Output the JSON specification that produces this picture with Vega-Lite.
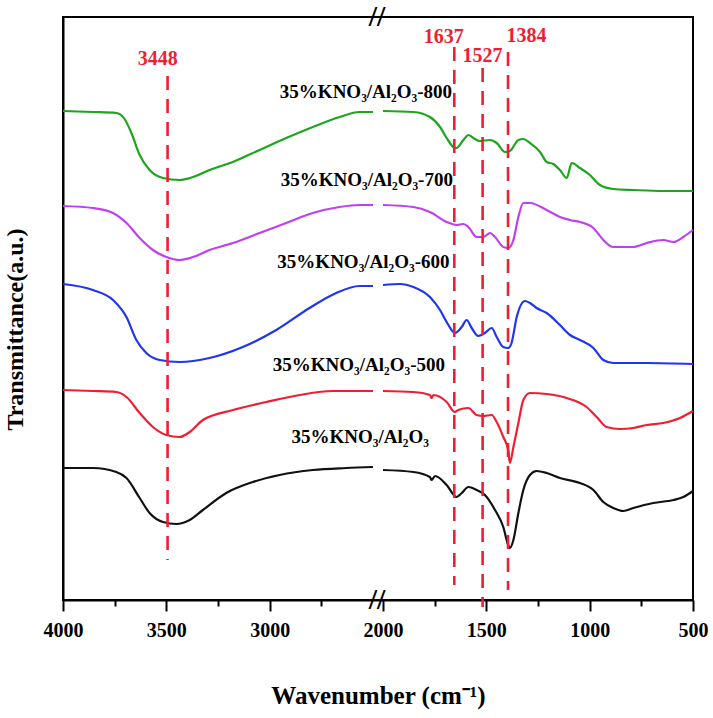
{
  "$schema": "https://vega.github.io/schema/vega-lite/v6.json",
  "width": 630,
  "height": 583,
  "autosize": {"type": "none"},
  "padding": {"left": 63, "top": 17, "right": 20, "bottom": 118},
  "background": "white",
  "datasets": {
    "spectra": [
      {"sample": "800", "part": "a", "wavenumber": 4000, "transmittance": 489},
      {"sample": "800", "part": "a", "wavenumber": 3855, "transmittance": 488},
      {"sample": "800", "part": "a", "wavenumber": 3742, "transmittance": 487},
      {"sample": "800", "part": "a", "wavenumber": 3702, "transmittance": 481},
      {"sample": "800", "part": "a", "wavenumber": 3669, "transmittance": 467},
      {"sample": "800", "part": "a", "wavenumber": 3629, "transmittance": 445},
      {"sample": "800", "part": "a", "wavenumber": 3581, "transmittance": 430},
      {"sample": "800", "part": "a", "wavenumber": 3516, "transmittance": 422},
      {"sample": "800", "part": "a", "wavenumber": 3436, "transmittance": 420},
      {"sample": "800", "part": "a", "wavenumber": 3371, "transmittance": 423},
      {"sample": "800", "part": "a", "wavenumber": 3291, "transmittance": 430},
      {"sample": "800", "part": "a", "wavenumber": 3178, "transmittance": 438},
      {"sample": "800", "part": "a", "wavenumber": 3049, "transmittance": 450},
      {"sample": "800", "part": "a", "wavenumber": 2920, "transmittance": 462},
      {"sample": "800", "part": "a", "wavenumber": 2791, "transmittance": 473},
      {"sample": "800", "part": "a", "wavenumber": 2662, "transmittance": 483},
      {"sample": "800", "part": "a", "wavenumber": 2565, "transmittance": 488},
      {"sample": "800", "part": "a", "wavenumber": 2500, "transmittance": 488},
      {"sample": "800", "part": "b", "wavenumber": 2000, "transmittance": 489},
      {"sample": "800", "part": "b", "wavenumber": 1853, "transmittance": 488},
      {"sample": "800", "part": "b", "wavenumber": 1773, "transmittance": 483},
      {"sample": "800", "part": "b", "wavenumber": 1724, "transmittance": 473},
      {"sample": "800", "part": "b", "wavenumber": 1692, "transmittance": 462},
      {"sample": "800", "part": "b", "wavenumber": 1660, "transmittance": 453},
      {"sample": "800", "part": "b", "wavenumber": 1644, "transmittance": 452},
      {"sample": "800", "part": "b", "wavenumber": 1611, "transmittance": 460},
      {"sample": "800", "part": "b", "wavenumber": 1587, "transmittance": 465},
      {"sample": "800", "part": "b", "wavenumber": 1563, "transmittance": 462},
      {"sample": "800", "part": "b", "wavenumber": 1531, "transmittance": 459},
      {"sample": "800", "part": "b", "wavenumber": 1482, "transmittance": 460},
      {"sample": "800", "part": "b", "wavenumber": 1450, "transmittance": 457},
      {"sample": "800", "part": "b", "wavenumber": 1410, "transmittance": 448},
      {"sample": "800", "part": "b", "wavenumber": 1386, "transmittance": 449},
      {"sample": "800", "part": "b", "wavenumber": 1345, "transmittance": 460},
      {"sample": "800", "part": "b", "wavenumber": 1321, "transmittance": 461},
      {"sample": "800", "part": "b", "wavenumber": 1289, "transmittance": 457},
      {"sample": "800", "part": "b", "wavenumber": 1240, "transmittance": 448},
      {"sample": "800", "part": "b", "wavenumber": 1208, "transmittance": 438},
      {"sample": "800", "part": "b", "wavenumber": 1176, "transmittance": 436},
      {"sample": "800", "part": "b", "wavenumber": 1144, "transmittance": 430},
      {"sample": "800", "part": "b", "wavenumber": 1111, "transmittance": 422},
      {"sample": "800", "part": "b", "wavenumber": 1087, "transmittance": 437},
      {"sample": "800", "part": "b", "wavenumber": 1047, "transmittance": 432},
      {"sample": "800", "part": "b", "wavenumber": 999, "transmittance": 425},
      {"sample": "800", "part": "b", "wavenumber": 950, "transmittance": 415},
      {"sample": "800", "part": "b", "wavenumber": 886, "transmittance": 411},
      {"sample": "800", "part": "b", "wavenumber": 789, "transmittance": 410},
      {"sample": "800", "part": "b", "wavenumber": 644, "transmittance": 409},
      {"sample": "800", "part": "b", "wavenumber": 500, "transmittance": 409},

      {"sample": "700", "part": "a", "wavenumber": 4000, "transmittance": 394},
      {"sample": "700", "part": "a", "wavenumber": 3855, "transmittance": 392},
      {"sample": "700", "part": "a", "wavenumber": 3758, "transmittance": 387},
      {"sample": "700", "part": "a", "wavenumber": 3693, "transmittance": 377},
      {"sample": "700", "part": "a", "wavenumber": 3629, "transmittance": 362},
      {"sample": "700", "part": "a", "wavenumber": 3565, "transmittance": 350},
      {"sample": "700", "part": "a", "wavenumber": 3500, "transmittance": 343},
      {"sample": "700", "part": "a", "wavenumber": 3436, "transmittance": 340},
      {"sample": "700", "part": "a", "wavenumber": 3371, "transmittance": 343},
      {"sample": "700", "part": "a", "wavenumber": 3291, "transmittance": 350},
      {"sample": "700", "part": "a", "wavenumber": 3178, "transmittance": 357},
      {"sample": "700", "part": "a", "wavenumber": 3049, "transmittance": 367},
      {"sample": "700", "part": "a", "wavenumber": 2920, "transmittance": 377},
      {"sample": "700", "part": "a", "wavenumber": 2791, "transmittance": 387},
      {"sample": "700", "part": "a", "wavenumber": 2662, "transmittance": 393},
      {"sample": "700", "part": "a", "wavenumber": 2565, "transmittance": 395},
      {"sample": "700", "part": "a", "wavenumber": 2500, "transmittance": 395},
      {"sample": "700", "part": "b", "wavenumber": 2000, "transmittance": 395},
      {"sample": "700", "part": "b", "wavenumber": 1853, "transmittance": 393},
      {"sample": "700", "part": "b", "wavenumber": 1773, "transmittance": 388},
      {"sample": "700", "part": "b", "wavenumber": 1692, "transmittance": 378},
      {"sample": "700", "part": "b", "wavenumber": 1644, "transmittance": 375},
      {"sample": "700", "part": "b", "wavenumber": 1611, "transmittance": 376},
      {"sample": "700", "part": "b", "wavenumber": 1587, "transmittance": 373},
      {"sample": "700", "part": "b", "wavenumber": 1547, "transmittance": 363},
      {"sample": "700", "part": "b", "wavenumber": 1515, "transmittance": 363},
      {"sample": "700", "part": "b", "wavenumber": 1482, "transmittance": 367},
      {"sample": "700", "part": "b", "wavenumber": 1458, "transmittance": 363},
      {"sample": "700", "part": "b", "wavenumber": 1418, "transmittance": 353},
      {"sample": "700", "part": "b", "wavenumber": 1394, "transmittance": 352},
      {"sample": "700", "part": "b", "wavenumber": 1369, "transmittance": 360},
      {"sample": "700", "part": "b", "wavenumber": 1345, "transmittance": 383},
      {"sample": "700", "part": "b", "wavenumber": 1321, "transmittance": 397},
      {"sample": "700", "part": "b", "wavenumber": 1289, "transmittance": 397},
      {"sample": "700", "part": "b", "wavenumber": 1208, "transmittance": 390},
      {"sample": "700", "part": "b", "wavenumber": 1144, "transmittance": 383},
      {"sample": "700", "part": "b", "wavenumber": 1095, "transmittance": 380},
      {"sample": "700", "part": "b", "wavenumber": 1047, "transmittance": 378},
      {"sample": "700", "part": "b", "wavenumber": 982, "transmittance": 372},
      {"sample": "700", "part": "b", "wavenumber": 934, "transmittance": 360},
      {"sample": "700", "part": "b", "wavenumber": 886, "transmittance": 353},
      {"sample": "700", "part": "b", "wavenumber": 789, "transmittance": 353},
      {"sample": "700", "part": "b", "wavenumber": 724, "transmittance": 357},
      {"sample": "700", "part": "b", "wavenumber": 644, "transmittance": 360},
      {"sample": "700", "part": "b", "wavenumber": 595, "transmittance": 358},
      {"sample": "700", "part": "b", "wavenumber": 547, "transmittance": 363},
      {"sample": "700", "part": "b", "wavenumber": 500, "transmittance": 370},

      {"sample": "600", "part": "a", "wavenumber": 4000, "transmittance": 316},
      {"sample": "600", "part": "a", "wavenumber": 3855, "transmittance": 310},
      {"sample": "600", "part": "a", "wavenumber": 3758, "transmittance": 300},
      {"sample": "600", "part": "a", "wavenumber": 3693, "transmittance": 283},
      {"sample": "600", "part": "a", "wavenumber": 3645, "transmittance": 260},
      {"sample": "600", "part": "a", "wavenumber": 3597, "transmittance": 247},
      {"sample": "600", "part": "a", "wavenumber": 3532, "transmittance": 240},
      {"sample": "600", "part": "a", "wavenumber": 3436, "transmittance": 238},
      {"sample": "600", "part": "a", "wavenumber": 3291, "transmittance": 242},
      {"sample": "600", "part": "a", "wavenumber": 3130, "transmittance": 253},
      {"sample": "600", "part": "a", "wavenumber": 2968, "transmittance": 270},
      {"sample": "600", "part": "a", "wavenumber": 2807, "transmittance": 292},
      {"sample": "600", "part": "a", "wavenumber": 2678, "transmittance": 307},
      {"sample": "600", "part": "a", "wavenumber": 2565, "transmittance": 314},
      {"sample": "600", "part": "a", "wavenumber": 2500, "transmittance": 314},
      {"sample": "600", "part": "b", "wavenumber": 2000, "transmittance": 315},
      {"sample": "600", "part": "b", "wavenumber": 1918, "transmittance": 316},
      {"sample": "600", "part": "b", "wavenumber": 1853, "transmittance": 313},
      {"sample": "600", "part": "b", "wavenumber": 1773, "transmittance": 303},
      {"sample": "600", "part": "b", "wavenumber": 1724, "transmittance": 290},
      {"sample": "600", "part": "b", "wavenumber": 1692, "transmittance": 278},
      {"sample": "600", "part": "b", "wavenumber": 1652, "transmittance": 267},
      {"sample": "600", "part": "b", "wavenumber": 1619, "transmittance": 273},
      {"sample": "600", "part": "b", "wavenumber": 1595, "transmittance": 280},
      {"sample": "600", "part": "b", "wavenumber": 1571, "transmittance": 272},
      {"sample": "600", "part": "b", "wavenumber": 1539, "transmittance": 264},
      {"sample": "600", "part": "b", "wavenumber": 1507, "transmittance": 267},
      {"sample": "600", "part": "b", "wavenumber": 1474, "transmittance": 272},
      {"sample": "600", "part": "b", "wavenumber": 1450, "transmittance": 263},
      {"sample": "600", "part": "b", "wavenumber": 1418, "transmittance": 253},
      {"sample": "600", "part": "b", "wavenumber": 1394, "transmittance": 252},
      {"sample": "600", "part": "b", "wavenumber": 1378, "transmittance": 257},
      {"sample": "600", "part": "b", "wavenumber": 1353, "transmittance": 283},
      {"sample": "600", "part": "b", "wavenumber": 1313, "transmittance": 299},
      {"sample": "600", "part": "b", "wavenumber": 1289, "transmittance": 297},
      {"sample": "600", "part": "b", "wavenumber": 1257, "transmittance": 292},
      {"sample": "600", "part": "b", "wavenumber": 1208, "transmittance": 287},
      {"sample": "600", "part": "b", "wavenumber": 1144, "transmittance": 275},
      {"sample": "600", "part": "b", "wavenumber": 1095, "transmittance": 265},
      {"sample": "600", "part": "b", "wavenumber": 1047, "transmittance": 260},
      {"sample": "600", "part": "b", "wavenumber": 982, "transmittance": 252},
      {"sample": "600", "part": "b", "wavenumber": 934, "transmittance": 240},
      {"sample": "600", "part": "b", "wavenumber": 886, "transmittance": 237},
      {"sample": "600", "part": "b", "wavenumber": 724, "transmittance": 237},
      {"sample": "600", "part": "b", "wavenumber": 500, "transmittance": 236},

      {"sample": "500", "part": "a", "wavenumber": 4000, "transmittance": 210},
      {"sample": "500", "part": "a", "wavenumber": 3855, "transmittance": 209},
      {"sample": "500", "part": "a", "wavenumber": 3742, "transmittance": 208},
      {"sample": "500", "part": "a", "wavenumber": 3693, "transmittance": 203},
      {"sample": "500", "part": "a", "wavenumber": 3629, "transmittance": 187},
      {"sample": "500", "part": "a", "wavenumber": 3565, "transmittance": 173},
      {"sample": "500", "part": "a", "wavenumber": 3500, "transmittance": 165},
      {"sample": "500", "part": "a", "wavenumber": 3436, "transmittance": 163},
      {"sample": "500", "part": "a", "wavenumber": 3387, "transmittance": 168},
      {"sample": "500", "part": "a", "wavenumber": 3323, "transmittance": 180},
      {"sample": "500", "part": "a", "wavenumber": 3178, "transmittance": 190},
      {"sample": "500", "part": "a", "wavenumber": 3016, "transmittance": 198},
      {"sample": "500", "part": "a", "wavenumber": 2855, "transmittance": 205},
      {"sample": "500", "part": "a", "wavenumber": 2694, "transmittance": 209},
      {"sample": "500", "part": "a", "wavenumber": 2500, "transmittance": 209},
      {"sample": "500", "part": "b", "wavenumber": 2000, "transmittance": 209},
      {"sample": "500", "part": "b", "wavenumber": 1853, "transmittance": 208},
      {"sample": "500", "part": "b", "wavenumber": 1773, "transmittance": 205},
      {"sample": "500", "part": "b", "wavenumber": 1765, "transmittance": 202},
      {"sample": "500", "part": "b", "wavenumber": 1756, "transmittance": 205},
      {"sample": "500", "part": "b", "wavenumber": 1692, "transmittance": 198},
      {"sample": "500", "part": "b", "wavenumber": 1652, "transmittance": 188},
      {"sample": "500", "part": "b", "wavenumber": 1636, "transmittance": 190},
      {"sample": "500", "part": "b", "wavenumber": 1587, "transmittance": 192},
      {"sample": "500", "part": "b", "wavenumber": 1547, "transmittance": 185},
      {"sample": "500", "part": "b", "wavenumber": 1515, "transmittance": 184},
      {"sample": "500", "part": "b", "wavenumber": 1474, "transmittance": 185},
      {"sample": "500", "part": "b", "wavenumber": 1450, "transmittance": 178},
      {"sample": "500", "part": "b", "wavenumber": 1418, "transmittance": 163},
      {"sample": "500", "part": "b", "wavenumber": 1394, "transmittance": 150},
      {"sample": "500", "part": "b", "wavenumber": 1386, "transmittance": 137},
      {"sample": "500", "part": "b", "wavenumber": 1369, "transmittance": 153},
      {"sample": "500", "part": "b", "wavenumber": 1345, "transmittance": 177},
      {"sample": "500", "part": "b", "wavenumber": 1321, "transmittance": 200},
      {"sample": "500", "part": "b", "wavenumber": 1289, "transmittance": 207},
      {"sample": "500", "part": "b", "wavenumber": 1208, "transmittance": 206},
      {"sample": "500", "part": "b", "wavenumber": 1111, "transmittance": 202},
      {"sample": "500", "part": "b", "wavenumber": 1015, "transmittance": 193},
      {"sample": "500", "part": "b", "wavenumber": 966, "transmittance": 183},
      {"sample": "500", "part": "b", "wavenumber": 918, "transmittance": 173},
      {"sample": "500", "part": "b", "wavenumber": 853, "transmittance": 171},
      {"sample": "500", "part": "b", "wavenumber": 789, "transmittance": 172},
      {"sample": "500", "part": "b", "wavenumber": 724, "transmittance": 175},
      {"sample": "500", "part": "b", "wavenumber": 644, "transmittance": 177},
      {"sample": "500", "part": "b", "wavenumber": 563, "transmittance": 182},
      {"sample": "500", "part": "b", "wavenumber": 500, "transmittance": 189},

      {"sample": "Al2O3", "part": "a", "wavenumber": 4000, "transmittance": 132},
      {"sample": "Al2O3", "part": "a", "wavenumber": 3855, "transmittance": 132},
      {"sample": "Al2O3", "part": "a", "wavenumber": 3742, "transmittance": 128},
      {"sample": "Al2O3", "part": "a", "wavenumber": 3693, "transmittance": 122},
      {"sample": "Al2O3", "part": "a", "wavenumber": 3629, "transmittance": 102},
      {"sample": "Al2O3", "part": "a", "wavenumber": 3581, "transmittance": 87},
      {"sample": "Al2O3", "part": "a", "wavenumber": 3516, "transmittance": 78},
      {"sample": "Al2O3", "part": "a", "wavenumber": 3452, "transmittance": 76},
      {"sample": "Al2O3", "part": "a", "wavenumber": 3387, "transmittance": 80},
      {"sample": "Al2O3", "part": "a", "wavenumber": 3323, "transmittance": 90},
      {"sample": "Al2O3", "part": "a", "wavenumber": 3210, "transmittance": 107},
      {"sample": "Al2O3", "part": "a", "wavenumber": 3081, "transmittance": 118},
      {"sample": "Al2O3", "part": "a", "wavenumber": 2952, "transmittance": 125},
      {"sample": "Al2O3", "part": "a", "wavenumber": 2791, "transmittance": 130},
      {"sample": "Al2O3", "part": "a", "wavenumber": 2630, "transmittance": 132},
      {"sample": "Al2O3", "part": "a", "wavenumber": 2500, "transmittance": 133},
      {"sample": "Al2O3", "part": "b", "wavenumber": 2000, "transmittance": 130},
      {"sample": "Al2O3", "part": "b", "wavenumber": 1853, "transmittance": 128},
      {"sample": "Al2O3", "part": "b", "wavenumber": 1773, "transmittance": 123},
      {"sample": "Al2O3", "part": "b", "wavenumber": 1765, "transmittance": 120},
      {"sample": "Al2O3", "part": "b", "wavenumber": 1748, "transmittance": 124},
      {"sample": "Al2O3", "part": "b", "wavenumber": 1692, "transmittance": 115},
      {"sample": "Al2O3", "part": "b", "wavenumber": 1644, "transmittance": 103},
      {"sample": "Al2O3", "part": "b", "wavenumber": 1619, "transmittance": 107},
      {"sample": "Al2O3", "part": "b", "wavenumber": 1587, "transmittance": 113},
      {"sample": "Al2O3", "part": "b", "wavenumber": 1547, "transmittance": 110},
      {"sample": "Al2O3", "part": "b", "wavenumber": 1507, "transmittance": 105},
      {"sample": "Al2O3", "part": "b", "wavenumber": 1458, "transmittance": 90},
      {"sample": "Al2O3", "part": "b", "wavenumber": 1418, "transmittance": 73},
      {"sample": "Al2O3", "part": "b", "wavenumber": 1394, "transmittance": 55},
      {"sample": "Al2O3", "part": "b", "wavenumber": 1386, "transmittance": 52},
      {"sample": "Al2O3", "part": "b", "wavenumber": 1369, "transmittance": 60},
      {"sample": "Al2O3", "part": "b", "wavenumber": 1345, "transmittance": 87},
      {"sample": "Al2O3", "part": "b", "wavenumber": 1321, "transmittance": 110},
      {"sample": "Al2O3", "part": "b", "wavenumber": 1289, "transmittance": 125},
      {"sample": "Al2O3", "part": "b", "wavenumber": 1257, "transmittance": 129},
      {"sample": "Al2O3", "part": "b", "wavenumber": 1208, "transmittance": 127},
      {"sample": "Al2O3", "part": "b", "wavenumber": 1144, "transmittance": 122},
      {"sample": "Al2O3", "part": "b", "wavenumber": 1047, "transmittance": 117},
      {"sample": "Al2O3", "part": "b", "wavenumber": 982, "transmittance": 110},
      {"sample": "Al2O3", "part": "b", "wavenumber": 934, "transmittance": 98},
      {"sample": "Al2O3", "part": "b", "wavenumber": 886, "transmittance": 92},
      {"sample": "Al2O3", "part": "b", "wavenumber": 837, "transmittance": 89},
      {"sample": "Al2O3", "part": "b", "wavenumber": 789, "transmittance": 92},
      {"sample": "Al2O3", "part": "b", "wavenumber": 692, "transmittance": 97},
      {"sample": "Al2O3", "part": "b", "wavenumber": 595, "transmittance": 100},
      {"sample": "Al2O3", "part": "b", "wavenumber": 547, "transmittance": 103},
      {"sample": "Al2O3", "part": "b", "wavenumber": 500, "transmittance": 109}
    ],
    "peaks": [
      {"peak": "3448", "wavenumber": 3494, "transmittance": 524, "bottom": 40},
      {"peak": "1637", "wavenumber": 1655, "transmittance": 553, "bottom": 15},
      {"peak": "1527", "wavenumber": 1518, "transmittance": 532, "bottom": -7},
      {"peak": "1384", "wavenumber": 1395, "transmittance": 548, "bottom": 10}
    ],
    "peakLabels": [
      {"label": "3448", "wavenumber": 3542, "transmittance": 541},
      {"label": "1637", "wavenumber": 1706, "transmittance": 563},
      {"label": "1527", "wavenumber": 1519, "transmittance": 544},
      {"label": "1384", "wavenumber": 1306, "transmittance": 564}
    ],
    "sampleLabels": [
      {"label": "35%KNO₃/Al₂O₃-800", "wavenumber": 2534, "transmittance": 508},
      {"label": "35%KNO₃/Al₂O₃-700", "wavenumber": 2530, "transmittance": 420},
      {"label": "35%KNO₃/Al₂O₃-600", "wavenumber": 2546, "transmittance": 338},
      {"label": "35%KNO₃/Al₂O₃-500", "wavenumber": 2568, "transmittance": 235},
      {"label": "35%KNO₃/Al₂O₃", "wavenumber": 2562, "transmittance": 163}
    ],
    "breaks": [
      {"label": "//", "wavenumber": 2300, "transmittance": 583},
      {"label": "//", "wavenumber": 2300, "transmittance": 0}
    ]
  },
  "encoding": {
    "x": {
      "field": "wavenumber",
      "type": "quantitative",
      "scale": {"domain": [4000, 2500, 2000, 500], "range": [0, 310, 320, 630], "nice": false, "zero": false},
      "axis": {
        "title": "Wavenumber (cm⁻¹)",
        "values": [4000, 3750, 3500, 3250, 3000, 2750, 2000, 1750, 1500, 1250, 1000, 750, 500],
        "labelExpr": "datum.value % 500 === 0 ? '' + datum.value : ''",
        "tickSize": {"condition": {"test": "datum.value % 500 === 0", "value": 11}, "value": 6},
        "tickWidth": 2,
        "tickColor": "black",
        "domainColor": "black",
        "domainWidth": 2,
        "grid": false,
        "labelFont": "Liberation Serif",
        "labelFontSize": 20,
        "labelFontWeight": "bold",
        "labelColor": "black",
        "labelPadding": 9,
        "labelFlush": false,
        "titleFont": "Liberation Serif",
        "titleFontSize": 25,
        "titleFontWeight": "bold",
        "titleColor": "black",
        "titlePadding": 43
      }
    },
    "y": {
      "field": "transmittance",
      "type": "quantitative",
      "scale": {"domain": [0, 583], "nice": false, "zero": false},
      "axis": {
        "title": "Transmittance(a.u.)",
        "ticks": false,
        "labels": false,
        "grid": false,
        "domainColor": "black",
        "domainWidth": 2,
        "titleFont": "Liberation Serif",
        "titleFontSize": 24,
        "titleFontWeight": "bold",
        "titleColor": "black",
        "titlePadding": 36,
        "titleY": 312
      }
    }
  },
  "layer": [
    {
      "data": {"name": "spectra"},
      "mark": {"type": "line", "strokeWidth": 2.2, "interpolate": "monotone"},
      "encoding": {
        "color": {
          "field": "sample",
          "type": "nominal",
          "scale": {
            "domain": ["800", "700", "600", "500", "Al2O3"],
            "range": ["#1ea51e", "#c040f0", "#1f35f0", "#f01e32", "#111111"]
          },
          "legend": null
        },
        "detail": {"field": "part"}
      }
    },
    {
      "data": {"name": "peaks"},
      "mark": {"type": "rule", "color": "#f01e32", "strokeWidth": 2.6, "strokeDash": [14, 9]},
      "encoding": {"y2": {"field": "bottom"}}
    },
    {
      "data": {"name": "peakLabels"},
      "mark": {"type": "text", "font": "Liberation Serif", "fontSize": 20, "fontWeight": "bold", "color": "#f01e32", "baseline": "middle"},
      "encoding": {"text": {"field": "label"}}
    },
    {
      "data": {"name": "sampleLabels"},
      "mark": {"type": "text", "font": "Liberation Serif", "fontSize": 19, "fontWeight": "bold", "color": "black", "baseline": "middle"},
      "encoding": {"text": {"field": "label"}}
    },
    {
      "data": {"name": "breaks"},
      "mark": {"type": "text", "font": "Liberation Serif", "fontSize": 30, "fontWeight": "bold", "color": "black", "baseline": "middle"},
      "encoding": {"text": {"field": "label"}}
    }
  ],
  "config": {
    "font": "Liberation Serif",
    "axis": {"labelFont": "Liberation Serif", "titleFont": "Liberation Serif"},
    "view": {"stroke": "black", "strokeWidth": 2}
  }
}
